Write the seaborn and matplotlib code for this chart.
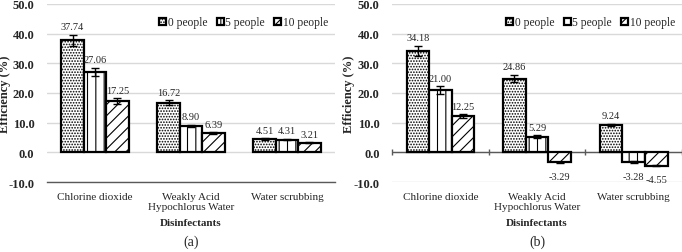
import pandas as pd
import numpy as np
import matplotlib.pyplot as plt
import seaborn as sns

# data
disinfectants = ["Chlorine dioxide", "Weakly Acid\nHypochlorus Water", "Water scrubbing"]
groups = ["0 people", "5 people", "10 people"]

eff_a = {"0 people": [37.74, 16.72, 4.51],
         "5 people": [27.06, 8.90, 4.31],
         "10 people": [17.25, 6.39, 3.21]}
err_a = {"0 people": [1.8, 0.8, 0.2],
         "5 people": [1.4, 0.4, 0.2],
         "10 people": [0.9, 0.3, 0.2]}

eff_b = {"0 people": [34.18, 24.86, 9.24],
         "5 people": [21.00, 5.29, -3.28],
         "10 people": [12.25, -3.29, -4.55]}
err_b = {"0 people": [1.7, 1.2, 0.4],
         "5 people": [1.2, 0.4, 0.2],
         "10 people": [0.6, 0.2, 0.2]}

hatches = ["......", "||", "///"]

sns.set_style("white")
plt.rcParams['font.family'] = ['Liberation Serif', 'DejaVu Serif']
plt.rcParams['hatch.linewidth'] = 0.8

fig = plt.figure(figsize=(6.82, 2.53), dpi=100)
ax_a = fig.add_axes([47/682, 70/253, 288/682, 178/253])
ax_b = fig.add_axes([392/682, 70/253, 290/682, 178/253])


def draw_panel(ax, eff, err, letter):
    rows = []
    for g in groups:
        for d, v in zip(disinfectants, eff[g]):
            rows.append({"Disinfectant": d, "Group": g, "Efficiency": v})
    df = pd.DataFrame(rows)

    sns.barplot(data=df, x="Disinfectant", y="Efficiency", hue="Group",
                order=disinfectants, hue_order=groups, palette=["white"] * 3,
                edgecolor="black", linewidth=1.6, width=0.7, saturation=1,
                errorbar=None, ax=ax, zorder=3)

    for cont, h, g in zip(ax.containers, hatches, groups):
        xs = []
        for bar in cont:
            bar.set_hatch(h)
            bar.set_edgecolor("black")
            xs.append(bar.get_x() + bar.get_width() / 2)
        vals = np.array(eff[g])
        errs = np.array(err[g])
        ax.errorbar(xs, vals, yerr=errs, fmt="none", ecolor="black",
                    elinewidth=1.0, capsize=3, capthick=1.0, zorder=4)
        for x, v, e in zip(xs, vals, errs):
            if v >= 0:
                ax.text(x, v + e + 1.2, f"{v:.2f}", ha="center", va="bottom", fontsize=7.5)
            else:
                ax.text(x, v - e - 3.0, f"{v:.2f}", ha="center", va="top", fontsize=7.5)

    ax.set_ylim(-10, 50)
    ax.set_xlim(-0.5, 2.5)
    ax.set_yticks(np.arange(-10, 51, 10))
    ax.set_yticklabels([f"{t:.1f}" for t in np.arange(-10, 51, 10)],
                       fontweight="bold", fontsize=9)
    ax.grid(axis="y", color="#d9d9d9", linewidth=1.0, zorder=0)
    ax.set_axisbelow(True)
    for s in ["top", "right", "left"]:
        ax.spines[s].set_visible(False)
    ax.tick_params(axis="y", length=0, pad=9)
    ax.tick_params(axis="x", which="major", length=0, labelsize=8, pad=7)
    ax.set_xticks([-0.5, 0.5, 1.5, 2.5], minor=True)

    ax.set_ylabel("Efficiency (%)", fontweight="bold", fontsize=9)
    ax.set_xlabel("Disinfectants", fontweight="bold", fontsize=8)
    ax.xaxis.set_label_coords(0.5, -0.205)
    ax.text(0.5, -0.295, letter, transform=ax.transAxes, ha="center", va="top", fontsize=10)

    ax.legend(ax.containers, groups, loc="upper right", bbox_to_anchor=(1.0, 0.97),
              ncol=3, frameon=False, fontsize=8.3, handlelength=0.6,
              handleheight=0.6, handletextpad=0.15, columnspacing=0.8,
              borderaxespad=0.2)
    return ax


draw_panel(ax_a, eff_a, err_a, "(a)")
ax_a.yaxis.set_label_coords(-0.125, 0.5)
ax_a.spines["bottom"].set_color("#595959")
ax_a.spines["bottom"].set_linewidth(1.0)
ax_a.tick_params(axis="x", which="minor", direction="inout", length=6,
                 width=1.0, color="#595959")

draw_panel(ax_b, eff_b, err_b, "(b)")
ax_b.yaxis.set_label_coords(-0.128, 0.5)
ax_b.spines["bottom"].set_visible(False)
ax_b.tick_params(axis="x", which="minor", length=0)
ax_b.axhline(0, color="#595959", linewidth=1.0, zorder=2)
ax_b.vlines([-0.5, 0.5, 1.5, 2.5], -1.0, 1.0, color="#595959", linewidth=1.0,
            zorder=2, clip_on=False)

fig.savefig("out.png", dpi=100)
